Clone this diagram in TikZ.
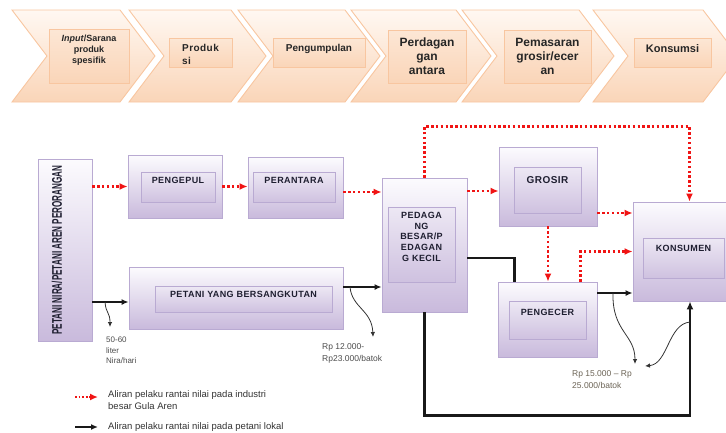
\documentclass[tikz,border=0pt]{standalone}
\usepackage{fontspec}
\setmainfont{Liberation Sans}
\newfontfamily\spacedfont[LetterSpace=4.5]{Liberation Sans}
\usepackage{graphicx}
\usetikzlibrary{arrows.meta,calc}

\definecolor{chevedge}{HTML}{F8C6A0}
\definecolor{chevtop}{HTML}{FFF8F2}
\definecolor{chevbot}{HTML}{FAD5B8}
\definecolor{lavedge}{HTML}{B9AAD2}
\definecolor{lavtop}{HTML}{FCFBFE}
\definecolor{lavbot}{HTML}{C9BADC}
\definecolor{flowred}{HTML}{F01414}
\definecolor{txtdark}{HTML}{1E1E30}
\definecolor{pricegray}{HTML}{6B6355}

\tikzset{
  chev/.style={draw=chevedge, line width=0.9pt, top color=chevtop, bottom color=chevbot},
  chevlabel/.style={draw=chevedge, line width=0.8pt, top color=chevtop!50!chevbot, bottom color=chevbot,
    inner sep=0pt, anchor=north, text=black!85, align=center},
  outerbox/.style={draw=lavedge, line width=0.8pt, top color=lavtop, bottom color=lavbot, inner sep=0pt},
  innerbox/.style={draw=lavedge, line width=0.8pt, top color=lavtop!70!lavbot, bottom color=lavbot!90,
    inner sep=0pt, anchor=north, text=txtdark, align=center,
    font=\spacedfont\fontsize{9}{10.75}\selectfont\bfseries},
  redflow/.style={flowred, line width=2.4pt, dash pattern=on 2.4pt off 2.4pt, -{Latex[length=8pt,width=7pt]}},
  blackflow/.style={black!90, line width=1.8pt, -{Latex[length=7pt,width=6pt]}},
  thickline/.style={black!90, line width=2.6pt},
  squig/.style={black!80, line width=0.8pt, -{Latex[length=5pt,width=4.5pt]}},
  smalltxt/.style={text=black!70, font=\fontsize{8}{10.5}\selectfont, align=left, inner sep=0pt, anchor=north west},
  legendtxt/.style={text=black!80, font=\fontsize{9.5}{12}\selectfont, align=left, inner sep=0pt, anchor=west}
}

\begin{document}
\begin{tikzpicture}[x=1pt,y=-1pt]
\useasboundingbox (0,0) rectangle (726,432);
\clip (0,0) rectangle (726,432);

\foreach \xl/\xr in {12/120,129/231,238/345,351/456,462/579,593/703}
  \draw[chev] (\xl,10) -- (\xr,10) -- (\xr+35,56) -- (\xr,102) -- (\xl,102) -- (\xl+35,56) -- cycle;

\node[chevlabel, minimum width=80pt, text height=34pt, text depth=20pt, font=\bfseries\fontsize{9}{11}\selectfont] (cinput) at (89,29) {\textit{Input}/Sarana\\produk\\spesifik};
\node[chevlabel, minimum width=63pt, text height=26pt, text depth=3pt, align=left, font=\spacedfont\bfseries\fontsize{10}{13}\selectfont] (cproduksi) at (200.5,38) {Produk\\si};
\node[chevlabel, minimum width=92pt, text height=13pt, text depth=16pt, font=\bfseries\fontsize{10}{12}\selectfont] (ckumpul) at (319,38) {Pengumpulan};
\node[chevlabel, minimum width=78pt, text height=44pt, text depth=9pt, font=\bfseries\fontsize{12}{14}\selectfont] (cantara) at (427,30) {Perdagan\\gan\\antara};
\node[chevlabel, minimum width=87pt, text height=44pt, text depth=9pt, font=\bfseries\fontsize{12}{14}\selectfont] (cpasar) at (547.5,30) {Pemasaran\\grosir/ecer\\an};
\node[chevlabel, minimum width=77pt, text height=14pt, text depth=15pt, font=\bfseries\fontsize{11}{13}\selectfont] (ckonsumsi) at (672.5,38) {Konsumsi};

\node[outerbox, minimum width=54pt, minimum height=182pt] (petani) at (65,250) {};
\node[rotate=90, inner sep=0pt, text=txtdark] (petanilbl) at (57,250) {\scalebox{0.58}[1]{\fontsize{14}{14}\selectfont\bfseries PETANI NIRA/PETANI AREN PERORANGAN}};

\node[outerbox, minimum width=94pt, minimum height=63pt] (pengepul) at (175,186.5) {};
\node[innerbox, minimum width=74pt, text height=11.5pt, text depth=18.5pt] (pengepulin) at (178,172) {PENGEPUL};
\node[outerbox, minimum width=95pt, minimum height=61pt] (perantara) at (295.5,187.5) {};
\node[innerbox, minimum width=82pt, text height=11.5pt, text depth=18.5pt] (perantarain) at (294,172) {PERANTARA};
\node[outerbox, minimum width=214pt, minimum height=62pt] (petaniyb) at (236,298) {};
\node[innerbox, minimum width=177pt, text height=11.5pt, text depth=14.5pt] (petaniybin) at (243.5,286) {PETANI YANG BERSANGKUTAN};
\node[outerbox, minimum width=85pt, minimum height=134pt] (pedagang) at (424.5,245) {};
\node[innerbox, minimum width=67pt, text height=54pt, text depth=21pt] (pedagangin) at (421.5,207) {PEDAGA\\NG\\BESAR/P\\EDAGAN\\G KECIL};
\node[outerbox, minimum width=98pt, minimum height=79pt] (grosir) at (548,186.5) {};
\node[innerbox, minimum width=67pt, text height=16pt, text depth=30pt, font=\spacedfont\fontsize{10}{12}\selectfont\bfseries] (grosirin) at (547.5,167) {GROSIR};
\node[outerbox, minimum width=95pt, minimum height=99pt] (konsumen) at (680.5,251.5) {};
\node[innerbox, minimum width=81pt, text height=13.5pt, text depth=26.5pt] (konsumenin) at (683.5,238) {KONSUMEN};
\node[outerbox, minimum width=99pt, minimum height=75pt] (pengecer) at (547.5,319.5) {};
\node[innerbox, minimum width=77pt, text height=14.5pt, text depth=23.5pt] (pengecerin) at (547.5,301) {PENGECER};

\draw[redflow] (pengepul.west -| petani.east) -- (pengepul.west);
\draw[redflow] (pengepul.east) -- (pengepul.east -| perantara.west);
\draw[redflow] ([yshift=-4.5pt]perantara.east) -- ([yshift=-4.5pt]perantara.east -| pedagang.west);
\draw[redflow] ([yshift=-4.5pt]pedagang.east |- grosir.west) -- ([yshift=-4.5pt]grosir.west);
\draw[redflow] ([yshift=-26.5pt]grosir.east) -- ([yshift=-26.5pt]grosir.east -| konsumen.west);
\draw[redflow] (grosir.south) -- (grosir.south |- pengecer.north);
\draw[redflow] ([xshift=33pt]pengecer.north) |- (konsumen.west);
\draw[redflow] (pedagang.north) -- ++(0,-51) -| ([xshift=9pt]konsumen.north);

\draw[blackflow] ([yshift=-4pt]petaniyb.west -| petani.east) -- ([yshift=-4pt]petaniyb.west);
\draw[blackflow] ([yshift=11pt]petaniyb.east) -- ([yshift=11pt]petaniyb.east -| pedagang.west);
\draw[thickline] ([yshift=-13pt]pedagang.east) -| ([xshift=-33pt]pengecer.north);
\draw[blackflow] ([yshift=26.5pt]pengecer.east) -- ([yshift=26.5pt]pengecer.east -| konsumen.west);
\draw[thickline, -{Latex[length=8pt,width=7pt]}] (pedagang.south) -- ++(0,103) -| ([xshift=9.5pt]konsumen.south);

\coordinate (q1) at (105,302);
\coordinate (q1e) at (110,327);
\coordinate (q2) at (350,287);
\coordinate (q2e) at (373,337);
\coordinate (q3) at (613,293);
\coordinate (q3e) at (635,364);
\coordinate (q4) at (690,322);
\coordinate (q4e) at (645,366);
\draw[squig] (q1) .. controls (106,314) and (110,312) .. (q1e);
\draw[squig] (q2) .. controls (352,308) and (372,310) .. (q2e);
\draw[squig] (q3) .. controls (612,332) and (635,334) .. (q3e);
\draw[squig] (q4) .. controls (668,324) and (668,364) .. (q4e);

\node[smalltxt] (nira) at (106,337) {50-60\\liter\\Nira/hari};
\node[smalltxt, font=\fontsize{8.5}{12.5}\selectfont] (harga1) at (322,343) {Rp 12.000-\\Rp23.000/batok};
\node[smalltxt, text=pricegray, font=\fontsize{8.5}{12.5}\selectfont] (harga2) at (572,370) {Rp 15.000 -- Rp\\25.000/batok};

\coordinate (l1a) at (75,397);
\coordinate (l1b) at (98,397);
\coordinate (l2a) at (75,427);
\coordinate (l2b) at (98,427);
\draw[redflow, line width=1.8pt, dash pattern=on 1.8pt off 1.8pt] (l1a) -- (l1b);
\draw[blackflow] (l2a) -- (l2b);
\node[legendtxt] (leg1) at (108,400) {Aliran pelaku rantai nilai pada industri\\besar Gula Aren};
\node[legendtxt] (leg2) at (108,427) {Aliran pelaku rantai nilai pada petani lokal};
\end{tikzpicture}
\end{document}
